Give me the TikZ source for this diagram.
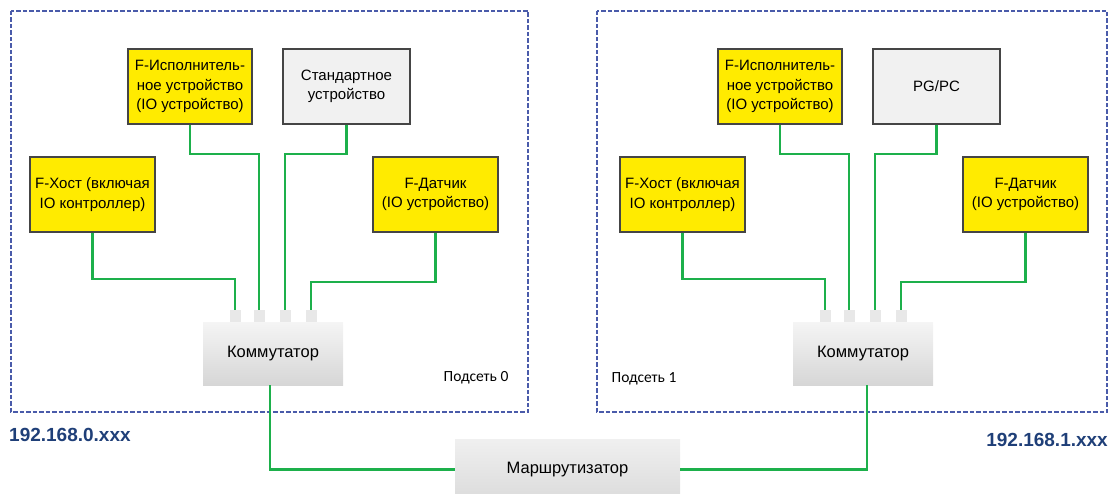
\documentclass[tikz,border=0pt]{standalone}
\usepackage{fontspec}
\setmainfont{Liberation Sans}
\newfontfamily\calfont{Carlito}
\definecolor{fyellow}{HTML}{FFEB00}
\definecolor{bord}{HTML}{454545}
\definecolor{netgreen}{HTML}{1DB04B}
\definecolor{subblue}{HTML}{4A5BAA}
\definecolor{ipblue}{HTML}{1F3F78}
\definecolor{stdgray}{HTML}{F1F1F1}
\begin{document}
\begin{tikzpicture}[x=1pt,y=-1pt,
  fbox/.style={draw=bord,line width=1.4pt,fill=fyellow,inner sep=0pt,align=center,
    minimum width=125pt,minimum height=75pt,font=\fontsize{15}{19.5}\selectfont},
  sbox/.style={fbox,fill=stdgray},
  swbox/.style={inner sep=0pt,top color=white!96!black,bottom color=white!84!black,
    minimum width=140pt,minimum height=63pt,font=\fontsize{16.5}{20}\selectfont},
  rtbox/.style={inner sep=0pt,top color=white!94!black,bottom color=white!86!black,
    minimum width=225pt,minimum height=61pt,font=\fontsize{16.5}{20}\selectfont},
  port/.style={inner sep=0pt,fill=white!91!black,minimum width=11pt,minimum height=12pt},
  net/.style={draw=netgreen,line width=2.6pt},
  subnet/.style={draw=subblue,line width=1.8pt,dash pattern=on 4.5pt off 2pt},
  iplabel/.style={font=\fontsize{19}{22}\selectfont\bfseries,text=ipblue,inner sep=0pt},
  sublabel/.style={font=\calfont\fontsize{15.5}{18}\selectfont,inner sep=0pt}]
\useasboundingbox (0,0) rectangle (1110,494);
% subnet frames
\draw[subnet] (11,11) rectangle (528,412);
\draw[subnet] (597,11) rectangle (1107,412);
% left subnet
\node[fbox] (hostL) at (92.5,194.5) {F-Хост (включая\\IO контроллер)};
\node[fbox,minimum width=124pt] (actL) at (190,86.5) {F-Исполнитель-\\ное устройство\\(IO устройство)};
\node[sbox,minimum width=127pt] (stdL) at (346.5,86.5) {Стандартное\\устройство};
\node[fbox] (senL) at (435.5,194.5) {F-Датчик\\(IO устройство)};
\node[swbox] (swL) at (273,353.5) {Коммутатор};
\node[port] (pL1) at (235,316) {};
\node[port] (pL2) at (259,316) {};
\node[port] (pL3) at (285,316) {};
\node[port] (pL4) at (311,316) {};
\node[sublabel] (subL) at (476,378) {Подсеть 0};
% right subnet
\node[fbox] (hostR) at (682.5,194.5) {F-Хост (включая\\IO контроллер)};
\node[fbox,minimum width=124pt] (actR) at (780,86.5) {F-Исполнитель-\\ное устройство\\(IO устройство)};
\node[sbox,minimum width=127pt] (pcR) at (936.5,86.5) {PG/PC};
\node[fbox] (senR) at (1025.5,194.5) {F-Датчик\\(IO устройство)};
\node[swbox] (swR) at (863,353.5) {Коммутатор};
\node[port] (pR1) at (825,316) {};
\node[port] (pR2) at (849,316) {};
\node[port] (pR3) at (875,316) {};
\node[port] (pR4) at (901,316) {};
\node[sublabel] (subR) at (644,379) {Подсеть 1};
% router
\node[rtbox] (rt) at (567.5,469.5) {Маршрутизатор};
% ip labels
\node[iplabel,anchor=west] (ipL) at (9,435) {192.168.0.xxx};
\node[iplabel,anchor=east] (ipR) at (1108,440) {192.168.1.xxx};
% connectors left
\draw[net] (hostL.south) -- (hostL.south |- 0,279) -| (pL1.north);
\draw[net] (actL.south) -- (actL.south |- 0,154) -| (pL2.north);
\draw[net] (stdL.south) -- (stdL.south |- 0,154) -| (pL3.north);
\draw[net] (senL.south) -- (senL.south |- 0,282) -| (pL4.north);
% connectors right
\draw[net] (hostR.south) -- (hostR.south |- 0,279) -| (pR1.north);
\draw[net] (actR.south) -- (actR.south |- 0,154) -| (pR2.north);
\draw[net] (pcR.south) -- (pcR.south |- 0,154) -| (pR3.north);
\draw[net] (senR.south) -- (senR.south |- 0,282) -| (pR4.north);
% to router
\draw[net] (swL.south -| 270,0) |- (rt.west);
\draw[net] (swR.south -| 867,0) |- (rt.east);
\end{tikzpicture}
\end{document}
